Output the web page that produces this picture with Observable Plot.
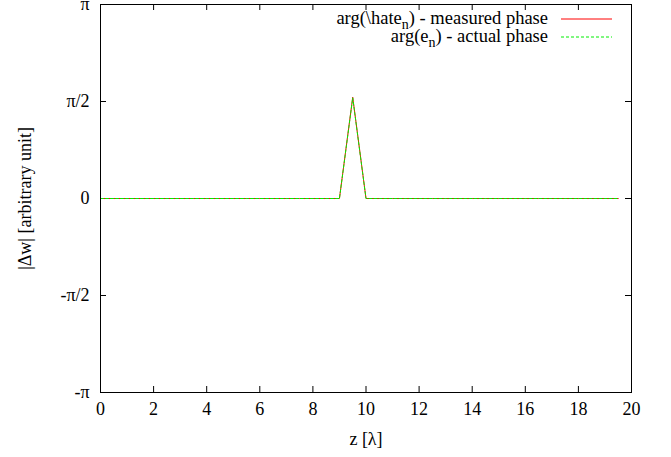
<!DOCTYPE html>
<html>
<head>
<meta charset="utf-8">
<script src="https://cdn.jsdelivr.net/npm/d3@7"></script>
<script src="https://cdn.jsdelivr.net/npm/@observablehq/plot@0.6"></script>
<style>
  html, body { margin: 0; padding: 0; background: #fff; }
</style>
</head>
<body>
<div id="chart"></div>
<script>
// ---- data ----
const z = [0, 0.5, 1, 1.5, 2, 2.5, 3, 3.5, 4, 4.5, 5, 5.5, 6, 6.5, 7, 7.5, 8, 8.5, 9, 9.5,
           10, 10.5, 11, 11.5, 12, 12.5, 13, 13.5, 14, 14.5, 15, 15.5, 16, 16.5, 17, 17.5, 18, 18.5, 19, 19.5];
const measuredPhase = [0, 0, 0, 0, 0, 0, 0, 0, 0, 0, 0, 0, 0, 0, 0, 0, 0, 0, 0, 1.64,
                       0, 0, 0, 0, 0, 0, 0, 0, 0, 0, 0, 0, 0, 0, 0, 0, 0, 0, 0, 0];
const actualPhase   = [0, 0, 0, 0, 0, 0, 0, 0, 0, 0, 0, 0, 0, 0, 0, 0, 0, 0, 0, 1.63,
                       0, 0, 0, 0, 0, 0, 0, 0, 0, 0, 0, 0, 0, 0, 0, 0, 0, 0, 0, 0];
const xTicks = [0, 2, 4, 6, 8, 10, 12, 14, 16, 18, 20];
const yTickValues = [-Math.PI, -Math.PI / 2, 0, Math.PI / 2, Math.PI];
const yTickLabels = ["-π", "-π/2", "0", "π/2", "π"];
const xLabel = "z [λ]";
const yLabel = "|Δw| [arbitrary unit]";
const legendEntries = [
  {parts: ["arg(\\hate", "n", ") - measured phase"], color: "#ff0000", dash: null},
  {parts: ["arg(e", "n", ") - actual phase"], color: "#00ee00", dash: "3,2"}
];

const rows = z.map((v, i) => ({z: v, measured: measuredPhase[i], actual: actualPhase[i]}));

// ---- layout ----
const W = 671, H = 457;
const mL = 100, mR = 40, mT = 4, mB = 65;
const plotW = W - mL - mR, plotH = H - mT - mB;
const tickLen = 6;
const FONT = "Liberation Serif";
const FS = 18;

function legendMark(index, scales, values, dims) {
  const g = d3.create("svg:g").style("font-family", FONT).style("font-size", "18.5px");
  const right = dims.width - dims.marginRight;
  legendEntries.forEach((e, k) => {
    const y = dims.marginTop + 15 + k * 18;
    const t = g.append("text").attr("x", right - 83).attr("y", y + 5).attr("text-anchor", "end").attr("fill", "black");
    t.append("tspan").text(e.parts[0]);
    t.append("tspan").attr("dy", 5).style("font-size", "14px").text(e.parts[1]);
    t.append("tspan").attr("dy", -5).text(e.parts[2]);
    const l = g.append("line").attr("x1", right - 70).attr("x2", right - 19).attr("y1", y).attr("y2", y)
      .attr("stroke", e.color).attr("stroke-width", 1);
    if (e.dash) l.attr("stroke-dasharray", e.dash);
  });
  return g.node();
}

const chart = Plot.plot({
  width: W, height: H,
  marginLeft: mL, marginRight: mR, marginTop: mT, marginBottom: mB,
  style: {fontFamily: FONT, fontSize: FS + "px", background: "white", color: "black", overflow: "visible"},
  x: {domain: [0, 20]},
  y: {domain: [-Math.PI, Math.PI]},
  marks: [
    Plot.axisX({ticks: xTicks, tickSize: 0, tickPadding: 10, tickFormat: d => String(d), label: null, fontSize: FS}),
    Plot.axisY({ticks: yTickValues, tickSize: 0, tickPadding: 11, label: null, fontSize: FS,
      tickFormat: d => yTickLabels[yTickValues.findIndex(v => Math.abs(v - d) < 1e-9)]}),
    Plot.ruleX(xTicks, {x: d => d, insetTop: plotH - tickLen, stroke: "black"}),
    Plot.ruleX(xTicks, {x: d => d, insetBottom: plotH - tickLen, stroke: "black"}),
    Plot.ruleY(yTickValues, {y: d => d, insetRight: plotW - tickLen, stroke: "black"}),
    Plot.ruleY(yTickValues, {y: d => d, insetLeft: plotW - tickLen, stroke: "black"}),
    Plot.line(rows, {x: "z", y: "measured", stroke: "#ff0000", strokeWidth: 1}),
    Plot.line(rows, {x: "z", y: "actual", stroke: "#00ee00", strokeWidth: 1, strokeDasharray: "3,2"}),
    Plot.frame({stroke: "black", strokeWidth: 1}),
    Plot.text([xLabel], {text: d => d, frameAnchor: "bottom", dy: 47, lineAnchor: "middle", fill: "black", fontSize: FS}),
    Plot.text([yLabel], {text: d => d, frameAnchor: "left", dx: -75, rotate: -90, textAnchor: "middle", lineAnchor: "middle", fill: "black", fontSize: FS}),
    legendMark
  ]
});
document.getElementById("chart").appendChild(chart);
</script>
</body>
</html>
